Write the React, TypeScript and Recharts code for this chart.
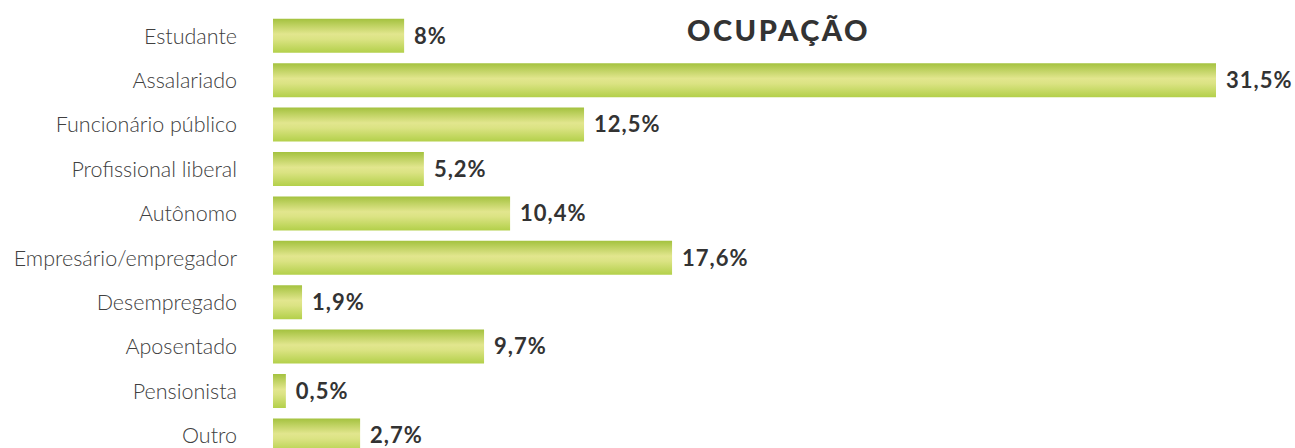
import React from "react";
import { BarChart, Bar, XAxis, YAxis, LabelList } from "recharts";

// Categories (top to bottom)
const categories = [
  "Estudante",
  "Assalariado",
  "Funcionário público",
  "Profissional liberal",
  "Autônomo",
  "Empresário/empregador",
  "Desempregado",
  "Aposentado",
  "Pensionista",
  "Outro",
];

// Printed percentages (value labels)
const valueLabels = ["8%", "31,5%", "12,5%", "5,2%", "10,4%", "17,6%", "1,9%", "9,7%", "0,5%", "2,7%"];

// Bar lengths as drawn in the source (the original artwork is not proportional),
// read off the picture in units of the axis where Assalariado = 31.5
const drawnLength = [4.38, 31.5, 10.39, 5.04, 7.92, 13.33, 0.97, 7.05, 0.43, 2.91];

const data = categories.map((name, i) => ({
  name,
  length: drawnLength[i],
  label: valueLabels[i],
}));

const labelFont = "Lato, 'Open Sans', sans-serif";

export default function App() {
  return (
    <div
      style={{
        position: "absolute",
        left: 0,
        top: 0,
        width: 1295,
        height: 448,
        overflow: "hidden",
        background: "#ffffff",
      }}
    >
      <div
        style={{
          position: "absolute",
          left: 0,
          width: 1557,
          top: 13,
          textAlign: "center",
          fontFamily: labelFont,
          fontWeight: 900,
          fontSize: 29,
          color: "#333333",
          letterSpacing: 2.5,
          lineHeight: "34px",
          zIndex: 2,
        }}
      >
        OCUPAÇÃO
      </div>
      <BarChart
        width={1295}
        height={470}
        data={data}
        layout="vertical"
        margin={{ top: 13.8, right: 79, bottom: 12.2, left: 0 }}
      >
        <defs>
          <linearGradient id="barGrad" x1="0" y1="0" x2="0" y2="1">
            <stop offset="0%" stopColor="#a4c23f" />
            <stop offset="45%" stopColor="#e2e68e" />
            <stop offset="60%" stopColor="#dbe383" />
            <stop offset="100%" stopColor="#b3d04a" />
          </linearGradient>
        </defs>
        <XAxis type="number" hide domain={[0, 31.5]} />
        <YAxis
          type="category"
          dataKey="name"
          width={273}
          axisLine={false}
          tickLine={false}
          tickSize={0}
          tickMargin={36}
          interval={0}
          tick={{ fill: "#404040", fontSize: 21.5, fontFamily: labelFont, fontWeight: 300 }}
        />
        <Bar dataKey="length" fill="url(#barGrad)" barSize={34} isAnimationActive={false}>
          <LabelList
            dataKey="label"
            position="right"
            offset={10}
            style={{
              fill: "#333333",
              fontSize: 22,
              fontWeight: 700,
              fontFamily: labelFont,
              letterSpacing: 1,
            }}
          />
        </Bar>
      </BarChart>
    </div>
  );
}
